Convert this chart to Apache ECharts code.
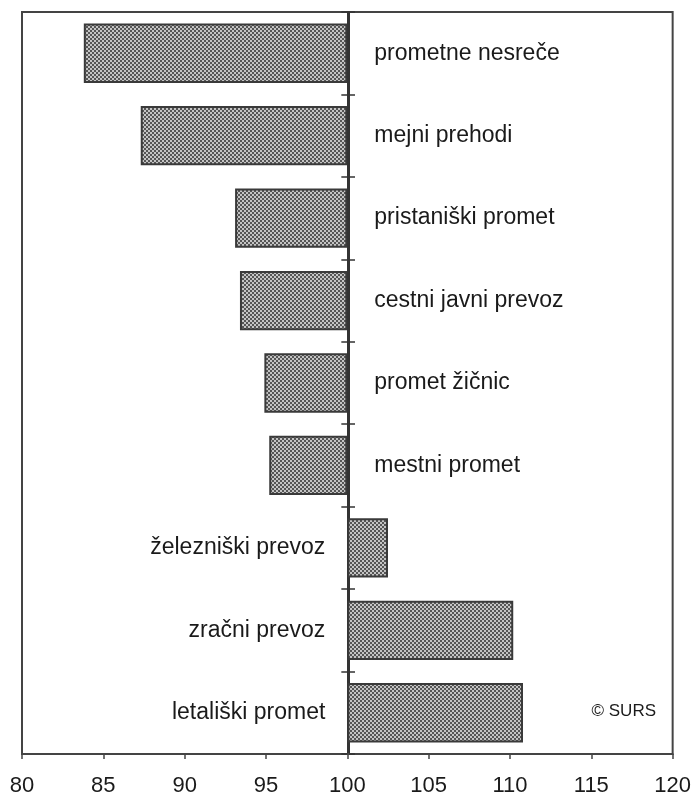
<!DOCTYPE html>
<html>
<head>
<meta charset="utf-8">
<script src="https://cdn.jsdelivr.net/npm/echarts@6/dist/echarts.min.js"></script>
<style>
  html, body { margin: 0; padding: 0; background: #fff; }
  #chart { width: 694px; height: 800px; }
</style>
</head>
<body>
<div id="chart"></div>
<script>
// podatki (indeks, 100 = osnova)
const categories = [
  'prometne nesreče',
  'mejni prehodi',
  'pristaniški promet',
  'cestni javni prevoz',
  'promet žičnic',
  'mestni promet',
  'železniški prevoz',
  'zračni prevoz',
  'letališki promet'
]
const values = [83.8, 87.3, 93.1, 93.4, 94.9, 95.2, 102.5, 110.2, 110.8]
const baseValue = 100
const tickLabels = [80, 85, 90, 95, 100, 105, 110, 115, 120]

// rastrski vzorec za stolpce
const makePattern = () => {
  const c = document.createElement('canvas')
  c.width = 4
  c.height = 4
  const ctx = c.getContext('2d')
  ctx.fillStyle = '#c4c4c4'
  ctx.fillRect(0, 0, 4, 4)
  ctx.fillStyle = '#555'
  ctx.fillRect(0, 0, 2, 2)
  ctx.fillRect(2, 2, 2, 2)
  return c
}

const chart = echarts.init(document.getElementById('chart'))
const font = '"Liberation Sans", Arial, sans-serif'
const gridBox = { left: 22, right: 18, top: 12, bottom: 46 }
const xMin = tickLabels[0] - baseValue
const xMax = tickLabels[tickLabels.length - 1] - baseValue

const option = {
  animation: false,
  grid: [
    Object.assign({ show: true, borderColor: '#444', borderWidth: 2 }, gridBox),
    Object.assign({ show: false }, gridBox)
  ],
  xAxis: [
    {
      type: 'value',
      gridIndex: 0,
      min: xMin,
      max: xMax,
      interval: 5,
      axisLine: { show: true, lineStyle: { color: '#444', width: 2 } },
      axisTick: { show: true, length: 5, lineStyle: { color: '#444', width: 1.5 } },
      splitLine: { show: false },
      axisLabel: {
        margin: 21,
        fontFamily: font,
        fontSize: 22,
        color: '#1a1a1a',
        formatter: v => String(v + baseValue)
      }
    },
    {
      type: 'value',
      gridIndex: 1,
      min: xMin,
      max: xMax,
      show: false
    }
  ],
  yAxis: [
    {
      type: 'category',
      gridIndex: 0,
      data: categories,
      inverse: true,
      axisLine: { onZero: true, lineStyle: { color: '#333', width: 2 } },
      axisTick: { show: true, length: 6, lineStyle: { color: '#333', width: 1.5 } },
      axisLabel: { show: false },
      splitLine: { show: false }
    },
    {
      type: 'category',
      gridIndex: 1,
      data: categories,
      inverse: true,
      axisLine: { onZero: true, lineStyle: { color: '#333', width: 2 } },
      axisTick: { show: true, inside: true, length: 6, lineStyle: { color: '#333', width: 1.5 } },
      axisLabel: { show: false },
      splitLine: { show: false }
    }
  ],
  series: [
    {
      type: 'bar',
      xAxisIndex: 0,
      yAxisIndex: 0,
      barCategoryGap: '28%',
      itemStyle: {
        color: { image: makePattern(), repeat: 'repeat' },
        borderColor: '#3a3a3a',
        borderWidth: 2
      },
      label: {
        show: true,
        fontFamily: font,
        fontSize: 23,
        color: '#1a1a1a',
        formatter: p => categories[p.dataIndex]
      },
      data: values.map(v => ({
        value: +(v - baseValue).toFixed(2),
        label: v < baseValue
          ? { position: 'right', distance: 27 }
          : { position: 'left', distance: 22 }
      }))
    }
  ],
  graphic: [
    {
      type: 'text',
      right: 38,
      top: 703,
      style: {
        text: '© SURS',
        font: '17px "Liberation Sans", Arial, sans-serif',
        fill: '#1a1a1a'
      }
    }
  ]
}

chart.setOption(option)
</script>
</body>
</html>
